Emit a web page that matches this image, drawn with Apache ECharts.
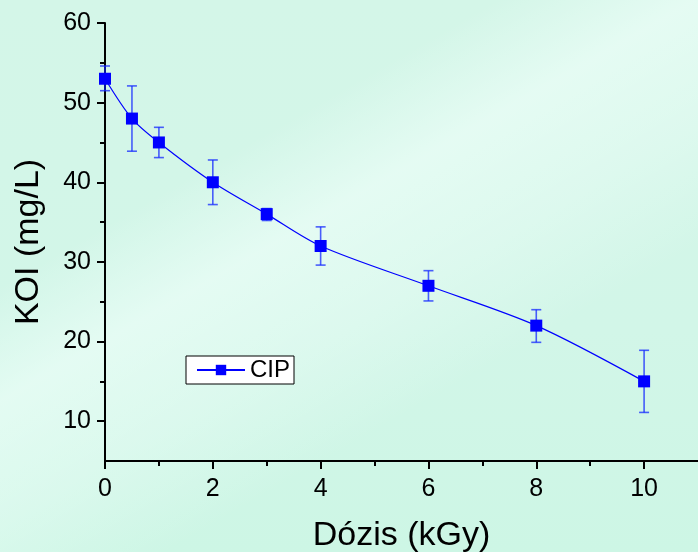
<!DOCTYPE html>
<html>
<head>
<meta charset="utf-8">
<script src="https://cdn.jsdelivr.net/npm/echarts@6/dist/echarts.min.js"></script>
<style>
html,body{margin:0;padding:0;}
#chart{width:698px;height:552px;
background:
 linear-gradient(150deg, rgba(255,255,255,0) 30%, rgba(240,255,250,0.6) 42%, rgba(240,255,250,0.35) 55%, rgba(255,255,255,0) 68%),
 linear-gradient(to bottom, #d4f6e8 0%, #d2f6e8 60%, #cdf6e5 100%);}
</style>
</head>
<body>
<div id="chart"></div>
<script>
var doses = [0, 0.5, 1, 2, 3, 4, 6, 8, 10];
var koi = [53, 48, 45, 40, 36, 32, 27, 22, 15];
var errLow = [51.5, 43.9, 43.1, 37.2, 35.2, 29.6, 25.1, 19.9, 11.1];
var errHigh = [54.6, 52.1, 46.9, 42.8, 36.7, 34.4, 28.9, 24.0, 18.9];
var xTicks = [0, 2, 4, 6, 8, 10];
var xMinorTicks = [1, 3, 5, 7, 9];
var yTicks = [10, 20, 30, 40, 50, 60];
var yMinorTicks = [15, 25, 35, 45, 55];
var seriesName = 'CIP';

var chart = echarts.init(document.getElementById('chart'), null, {renderer: 'canvas'});
var font = 'Liberation Sans, Arial, sans-serif';
var errData = doses.map(function (d, i) { return [d, errLow[i], errHigh[i]]; });

chart.setOption({
  animation: false,
  grid: {left: 105, top: 23, right: 0, bottom: 91, containLabel: false, outerBoundsMode: 'none'},
  legend: {
    left: 186, top: 356,
    data: [seriesName],
    backgroundColor: '#ffffff', borderColor: '#000000', borderWidth: 1,
    padding: [2, 4, 2, 10],
    itemWidth: 48, itemHeight: 13, itemGap: 4,
    textStyle: {fontFamily: font, fontSize: 24, color: '#000'}
  },
  xAxis: [{
    type: 'value', min: 0, max: 11, gridIndex: 0,
    axisLine: {show: true, onZero: false, lineStyle: {color: '#000', width: 2}},
    axisTick: {show: true, customValues: xTicks, length: 8, inside: false, lineStyle: {color: '#000', width: 2}},
    axisLabel: {customValues: xTicks, margin: 16, fontFamily: font, fontSize: 25, color: '#000'},
    splitLine: {show: false},
    name: 'Dózis (kGy)', nameLocation: 'middle', nameGap: 58,
    nameTextStyle: {fontFamily: font, fontSize: 34, color: '#000'}
  }, {
    type: 'value', min: 0, max: 11, gridIndex: 0, position: 'bottom',
    axisLine: {show: false},
    axisTick: {show: true, customValues: xMinorTicks, length: 5, lineStyle: {color: '#000', width: 2}},
    axisLabel: {show: false}, splitLine: {show: false}
  }],
  yAxis: [{
    type: 'value', min: 5, max: 60, gridIndex: 0,
    axisLine: {show: true, onZero: false, lineStyle: {color: '#000', width: 2}},
    axisTick: {show: true, customValues: yTicks, length: 8, lineStyle: {color: '#000', width: 2}},
    axisLabel: {customValues: yTicks, margin: 14, fontFamily: font, fontSize: 25, color: '#000'},
    splitLine: {show: false},
    name: 'KOI (mg/L)', nameLocation: 'middle', nameGap: 59,
    nameTextStyle: {fontFamily: font, fontSize: 34, color: '#000'}
  }, {
    type: 'value', min: 5, max: 60, gridIndex: 0, position: 'left',
    axisLine: {show: false},
    axisTick: {show: true, customValues: yMinorTicks, length: 5, lineStyle: {color: '#000', width: 2}},
    axisLabel: {show: false}, splitLine: {show: false}
  }],
  series: [{
    type: 'custom',
    name: 'err',
    xAxisIndex: 0, yAxisIndex: 0,
    data: errData,
    clip: false,
    z: 2,
    renderItem: function (params, api) {
      var x = api.value(0);
      var lo = api.coord([x, api.value(1)]);
      var hi = api.coord([x, api.value(2)]);
      var w = 5;
      var st = {stroke: 'rgba(20,40,255,0.75)', lineWidth: 1.6, fill: null};
      return {
        type: 'group',
        children: [
          {type: 'line', shape: {x1: lo[0], y1: lo[1], x2: hi[0], y2: hi[1]}, style: st},
          {type: 'line', shape: {x1: lo[0] - w, y1: lo[1], x2: lo[0] + w, y2: lo[1]}, style: st},
          {type: 'line', shape: {x1: hi[0] - w, y1: hi[1], x2: hi[0] + w, y2: hi[1]}, style: st}
        ]
      };
    }
  }, {
    type: 'line',
    name: seriesName,
    xAxisIndex: 0, yAxisIndex: 0,
    data: doses.map(function (d, i) { return [d, koi[i]]; }),
    smooth: 0.3,
    clip: false,
    symbol: 'rect', symbolSize: 12,
    itemStyle: {color: '#0000ff'},
    lineStyle: {color: '#0000ff', width: 1.2},
    z: 3
  }]
});
</script>
</body>
</html>
